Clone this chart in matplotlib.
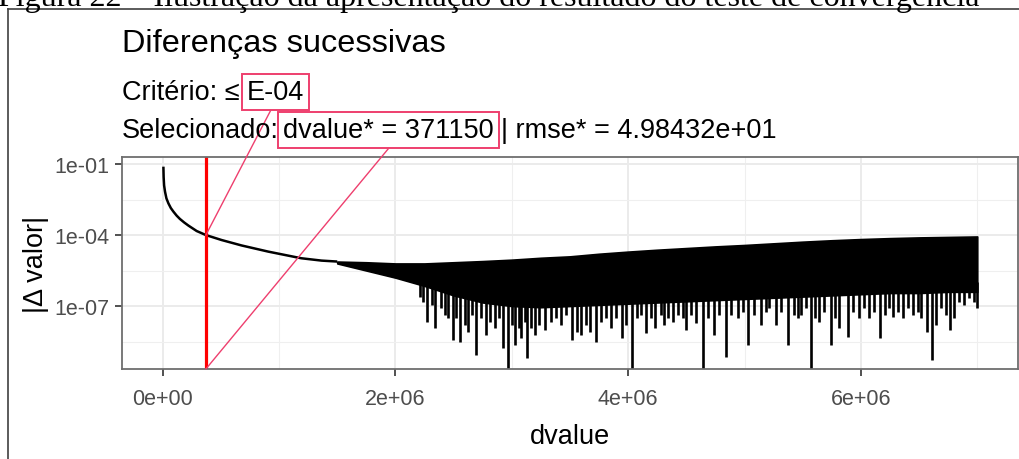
import matplotlib
matplotlib.use("Agg")
import matplotlib.pyplot as plt
from matplotlib.text import OffsetFrom
from matplotlib.lines import Line2D
from matplotlib.ticker import FixedLocator, NullFormatter
import numpy as np

# smooth decay of |delta| before the noise floor (dvalue, log10 |delta|)
head_dvalue = [6e3, 8e3, 12e3, 20e3, 32e3, 49e3, 70e3, 92e3, 120e3, 148e3, 185e3,
               221e3, 292e3, 371150, 506e3, 678e3, 907e3, 1190e3, 1365e3, 1500e3]
head_log = [-1.11, -1.55, -1.90, -2.17, -2.45, -2.66, -2.86, -3.01, -3.18, -3.32, -3.47,
            -3.60, -3.83, -4.00, -4.21, -4.44, -4.70, -4.98, -5.08, -5.12]

# noisy part: upper edge and lower edge of the dense band
band_dvalue = [1.50e6, 1.75e6, 2.00e6, 2.25e6, 2.50e6, 2.75e6, 3.00e6, 3.25e6,
               3.50e6, 3.75e6, 4.00e6, 4.25e6, 4.50e6, 4.75e6, 5.00e6, 5.25e6,
               5.50e6, 5.75e6, 6.00e6, 6.25e6, 6.50e6, 6.75e6, 7.00e6]
band_upper_log = [-5.12, -5.15, -5.20, -5.20, -5.15, -5.10, -5.04, -4.96,
                  -4.90, -4.79, -4.70, -4.62, -4.55, -4.48, -4.42, -4.35,
                  -4.28, -4.22, -4.17, -4.13, -4.10, -4.08, -4.06]
band_lower_log = [-5.20, -5.50, -5.80, -6.15, -6.55, -6.85, -7.00, -7.05,
                  -7.00, -6.95, -6.90, -6.85, -6.80, -6.75, -6.70, -6.65,
                  -6.60, -6.55, -6.50, -6.45, -6.45, -6.40, -6.40]

# downward spikes below the band (dvalue in millions, log10 |delta|)
spike_dvalue = [2.209, 2.237, 2.275, 2.315, 2.343, 2.389, 2.423, 2.452, 2.495, 2.524,
                2.552, 2.595, 2.624, 2.658, 2.695, 2.738, 2.781, 2.810, 2.853, 2.887,
                2.924, 2.967, 3.001, 3.024, 3.059, 3.081, 3.110, 3.133, 3.167, 3.196,
                3.230, 3.282, 3.339, 3.382, 3.425, 3.468, 3.517, 3.562, 3.597, 3.640,
                3.668, 3.725, 3.768, 3.811, 3.854, 3.897, 3.946, 3.983, 4.032, 4.077,
                4.112, 4.155, 4.198, 4.232, 4.278, 4.312, 4.346, 4.384, 4.426, 4.469,
                4.498, 4.541, 4.584, 4.647, 4.684, 4.741, 4.784, 4.841, 4.884, 4.941,
                4.990, 5.033, 5.085, 5.142, 5.185, 5.213, 5.271, 5.313, 5.376, 5.422,
                5.457, 5.485, 5.528, 5.571, 5.605, 5.643, 5.685, 5.743, 5.777, 5.814,
                5.886, 5.929, 5.986, 6.029, 6.072, 6.115, 6.163, 6.206, 6.243, 6.272,
                6.315, 6.358, 6.401, 6.444, 6.487, 6.515, 6.567, 6.607, 6.644, 6.687,
                6.730, 6.767, 6.801, 6.844, 6.887, 6.930, 6.973, 7.002]
spike_log = [-6.60, -6.82, -7.66, -6.96, -7.94, -7.10, -7.38, -7.52, -8.44, -7.52,
             -8.51, -7.80, -8.08, -7.38, -9.07, -7.52, -8.22, -7.66, -7.94, -7.52,
             -8.79, -9.80, -7.80, -8.65, -7.94, -8.36, -7.66, -9.21, -7.94, -8.22,
             -7.80, -8.01, -7.66, -7.52, -7.80, -7.38, -8.44, -8.08, -8.22, -7.80,
             -8.08, -8.51, -7.66, -7.52, -7.94, -7.52, -8.36, -7.80, -9.80, -7.52,
             -7.38, -8.15, -7.52, -7.94, -7.38, -7.80, -7.52, -7.66, -7.38, -7.52,
             -8.01, -7.38, -7.73, -9.80, -7.52, -8.22, -7.38, -9.14, -7.38, -7.52,
             -7.24, -8.65, -7.38, -7.80, -7.24, -7.10, -7.80, -7.24, -8.65, -7.38,
             -7.52, -7.38, -7.10, -9.80, -7.52, -7.66, -7.24, -8.65, -7.52, -7.94,
             -8.29, -7.24, -7.52, -7.10, -7.52, -7.24, -8.36, -7.38, -7.10, -7.45,
             -7.24, -7.52, -7.10, -7.38, -7.24, -7.52, -8.08, -9.28, -7.80, -7.10,
             -7.38, -8.01, -7.52, -6.82, -6.96, -6.67, -6.82, -7.07]

sel_dvalue = 371150
crit_label = "E-04"
crit_value = 1e-4
rmse_label = "4.98432e+01"

x_ticks = [0, 2e6, 4e6, 6e6]
x_labels = ["0e+00", "2e+06", "4e+06", "6e+06"]
x_minor = [1e6, 3e6, 5e6, 7e6]
y_ticks = [1e-1, 1e-4, 1e-7]
y_labels = ["1e-01", "1e-04", "1e-07"]
y_minor = [10 ** -2.5, 10 ** -5.5, 10 ** -8.5]

pink = "#EE3F6E"
sans = ["Liberation Sans", "DejaVu Sans"]
plt.rcParams["font.family"] = sans

fig = plt.figure(figsize=(10.19, 4.6), dpi=100)

# caption of the figure, partly cut at the top
fig.text(-0.002, 0.987, "Figura 22 \u2013 Ilustração da apresentação do resultado do teste de convergência",
         family=["Liberation Serif", "DejaVu Serif"], fontsize=23, va="baseline", ha="left")
fig.add_artist(Line2D([8 / 1019, 1.0], [450 / 460, 450 / 460], transform=fig.transFigure,
                      color="#404040", lw=1.2))
fig.add_artist(Line2D([8 / 1019, 8 / 1019], [0, 450 / 460], transform=fig.transFigure,
                      color="#404040", lw=1.2))

ax = fig.add_axes([0.1197, 0.1957, 0.8793, 0.4609])
ax.set_yscale("log")
ax.set_xlim(-0.35e6, 7.35e6)
ax.set_ylim(10 ** -9.66, 10 ** -0.70)

ax.plot(head_dvalue, 10 ** np.array(head_log), color="black", lw=1.8, solid_capstyle="butt")
ax.fill_between(band_dvalue, 10 ** np.array(band_upper_log), 10 ** np.array(band_lower_log),
                color="black", lw=1.2)
ax.vlines(np.array(spike_dvalue) * 1e6, 10 ** np.array(spike_log), 1e-6, color="black", lw=1.9)
ax.axvline(sel_dvalue, color="red", lw=2.3)

ax.set_xticks(x_ticks)
ax.set_xticklabels(x_labels)
ax.xaxis.set_minor_locator(FixedLocator(x_minor))
ax.xaxis.set_minor_formatter(NullFormatter())
ax.set_yticks(y_ticks)
ax.set_yticklabels(y_labels)
ax.yaxis.set_minor_locator(FixedLocator(y_minor))
ax.yaxis.set_minor_formatter(NullFormatter())

ax.set_axisbelow(True)
ax.grid(which="major", color="#EBEBEB", lw=1.4)
ax.grid(which="minor", color="#EFEFEF", lw=0.8)
ax.tick_params(which="major", length=5, width=1.2, color="#333333",
               labelcolor="#4D4D4D", labelsize=15.5)
ax.tick_params(axis="x", which="major", pad=9)
ax.tick_params(axis="y", which="major", pad=4)
ax.tick_params(which="minor", length=0)
for s in ax.spines.values():
    s.set_color("#6E6E6E")
    s.set_linewidth(1.3)

ax.set_xlabel("dvalue", fontsize=19.5, labelpad=10)
ax.set_ylabel("|\u0394 valor|", fontsize=19.5, labelpad=4)

# title and subtitle with the highlighted values
fig.text(0.1197, 0.887, "Diferenças sucessivas", fontsize=23.4, va="baseline")
t1 = fig.text(0.1197, 0.7826, "Critério: \u2264", fontsize=19.5, va="baseline")
t2 = fig.text(0.1197, 0.700, "Selecionado:", fontsize=19.5, va="baseline")

box = dict(boxstyle="square,pad=0.18", fc="none", ec=pink, lw=1.4)
b1 = ax.annotate(crit_label, xy=(5, 0), xycoords=OffsetFrom(t1, (1, 0), unit="points"),
                 fontsize=19.5, va="bottom", ha="left", bbox=box, annotation_clip=False)
b2 = ax.annotate(f"dvalue* = {sel_dvalue}", xy=(3, 0), xycoords=OffsetFrom(t2, (1, 0), unit="points"),
                 fontsize=19.5, va="bottom", ha="left", bbox=box, annotation_clip=False)
ax.annotate(f"| rmse* = {rmse_label}", xy=(5, 0), xycoords=OffsetFrom(b2, (1, 0), unit="points"),
            fontsize=19.5, va="bottom", ha="left", annotation_clip=False)

# connectors from the boxes down to the selected point
line = dict(arrowstyle="-", color=pink, lw=1.0, shrinkA=0, shrinkB=0)
ax.annotate("", xy=(sel_dvalue, crit_value), xycoords="data",
            xytext=(0, -4), textcoords=OffsetFrom(b1, (0.42, 0), unit="points"),
            arrowprops=line, annotation_clip=False)
ax.annotate("", xy=(sel_dvalue, 0), xycoords=("data", "axes fraction"),
            xytext=(0, -4), textcoords=OffsetFrom(b2, (0.5, 0), unit="points"),
            arrowprops=line, annotation_clip=False)

fig.savefig("out.png", dpi=100)
